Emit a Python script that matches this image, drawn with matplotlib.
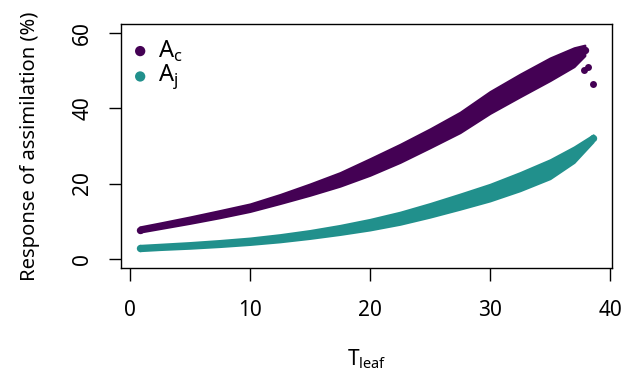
import matplotlib.pyplot as plt
import numpy as np

plt.rcParams['font.family'] = ['Noto Sans', 'DejaVu Sans']
plt.rcParams['mathtext.fontset'] = 'custom'
plt.rcParams['mathtext.rm'] = 'Noto Sans'

# band edges (T_leaf vs response, %)
t_c = [0.8, 2.5, 5, 7.5, 10, 12.5, 15, 17.5, 20, 22.5, 25, 27.5, 30, 32.5, 35, 37, 37.9]
ac_lo = [7.1, 8.05, 9.45, 10.95, 12.6, 14.7, 16.9, 19.3, 22.2, 25.6, 29.5, 33.5, 38.6, 43.0, 47.3, 51.0, 53.9]
ac_hi = [8.5, 9.55, 11.15, 12.85, 14.6, 17.1, 19.9, 22.9, 26.6, 30.4, 34.5, 38.9, 44.4, 49.0, 53.3, 56.0, 56.7]

t_j = [0.8, 2.5, 5, 7.5, 10, 12.5, 15, 17.5, 20, 22.5, 25, 27.5, 30, 32.5, 35, 37, 38.6]
aj_lo = [2.2, 2.5, 2.85, 3.3, 3.85, 4.55, 5.45, 6.5, 7.7, 9.2, 11.1, 13.2, 15.4, 18.1, 21.3, 25.6, 31.1]
aj_hi = [3.6, 3.9, 4.35, 4.9, 5.55, 6.45, 7.55, 8.9, 10.5, 12.4, 14.7, 17.2, 19.8, 22.9, 26.3, 29.7, 32.9]

# stray A_c points at the hot end
out_t = [37.85, 38.2, 38.6]
out_a = [50.0, 51.0, 46.4]

col_c = '#440154'
col_j = '#21908C'

fig = plt.figure(figsize=(6.31, 3.71), dpi=100)
ax = fig.add_axes([0.1918, 0.2776, 0.7782, 0.6577])

for t, lo, hi, col in [(t_c, ac_lo, ac_hi, col_c), (t_j, aj_lo, aj_hi, col_j)]:
    ax.fill_between(t, lo, hi, color=col, lw=1.5, edgecolor=col)
    ax.scatter([t[0], t[-1]], [(lo[0] + hi[0]) / 2, (lo[-1] + hi[-1]) / 2],
               s=28, color=col, lw=0)
ax.scatter(out_t, out_a, s=25, color=col_c, lw=0)

ax.set_xlim(-0.75, 40.17)
ax.set_ylim(-2.4, 62.3)
ax.set_xticks([0, 10, 20, 30, 40])
ax.set_yticks([0, 20, 40, 60])
ax.tick_params(direction='out', length=9, width=1, labelsize=15)
ax.tick_params(axis='x', pad=14)
ax.tick_params(axis='y', pad=11)
for lab in ax.get_yticklabels():
    lab.set_rotation(90)
    lab.set_va('center')
for s in ax.spines.values():
    s.set_linewidth(1)

ax.set_xlabel(r'T$_{\mathrm{leaf}}$', fontsize=15, labelpad=19)
ax.set_ylabel('Response of assimilation (%)', fontsize=14.5, labelpad=23)

# legend drawn by hand so dots and labels sit where the reference has them
ax.scatter([0.039, 0.039], [0.889, 0.785], s=55, color=[col_c, col_j],
           lw=0, transform=ax.transAxes, clip_on=False)
ax.text(0.076, 0.889, r'A$_{\mathrm{c}}$', transform=ax.transAxes,
        fontsize=17, va='center', ha='left')
ax.text(0.076, 0.785, r'A$_{\mathrm{j}}$', transform=ax.transAxes,
        fontsize=17, va='center', ha='left')

fig.savefig('out.png', dpi=100)
